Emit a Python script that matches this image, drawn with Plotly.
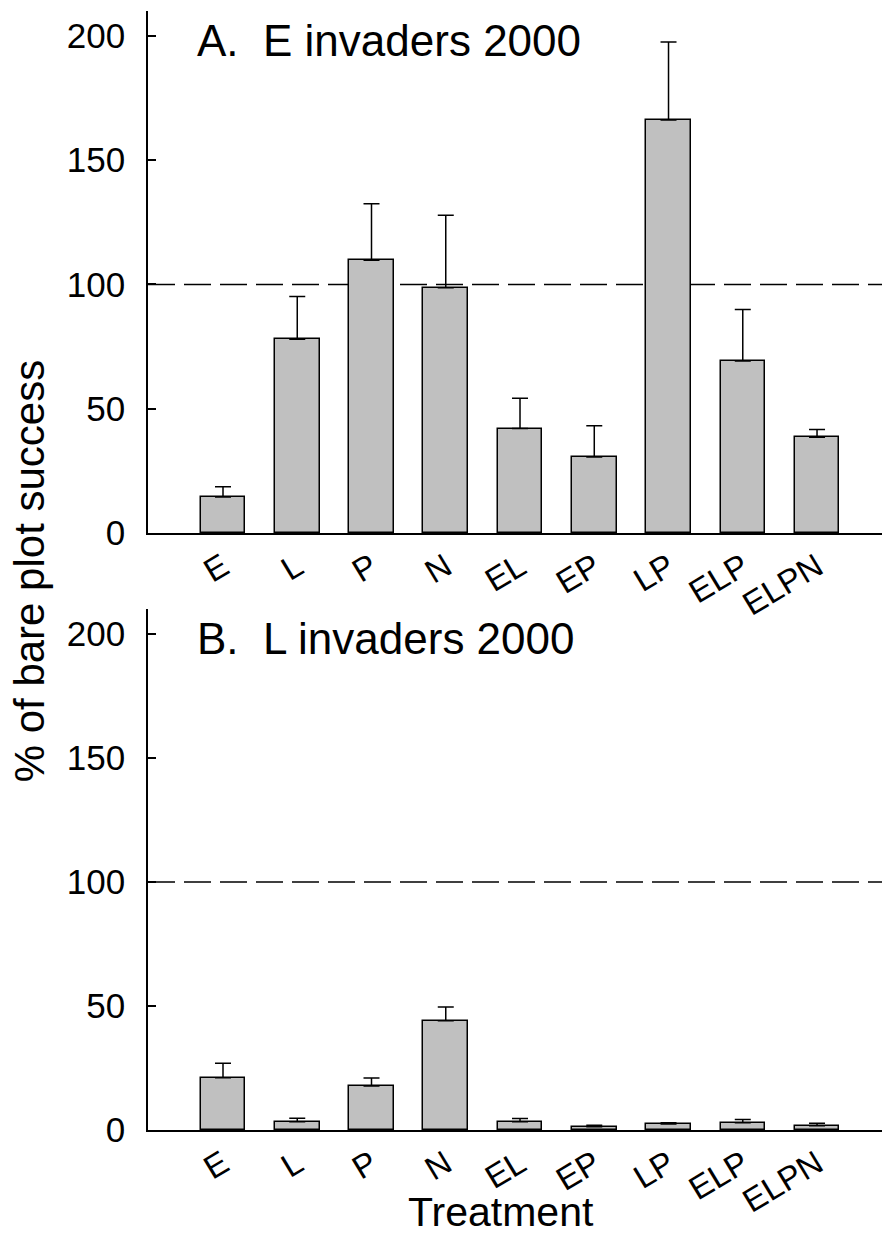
import plotly.graph_objects as go

# Treatments on the x axis
treatments = ["E", "L", "P", "N", "EL", "EP", "LP", "ELP", "ELPN"]

# Panel A: E invaders 2000 (% of bare plot success, mean and upper SE)
e_mean = [14.5, 77.9, 109.7, 98.7, 42.0, 30.6, 166.2, 69.2, 38.5]
e_err = [4.1, 17.2, 22.8, 29.1, 12.2, 12.6, 31.3, 20.7, 3.1]

# Panel B: L invaders 2000
l_mean = [21.1, 3.3, 17.7, 44.0, 3.3, 1.3, 2.4, 2.9, 1.7]
l_err = [5.8, 1.4, 3.3, 5.6, 1.3, 0.6, 0.5, 1.3, 1.0]

y_ticks = [0, 50, 100, 150, 200]
reference_level = 100

FONT = "Liberation Sans, Arial, sans-serif"
x_idx = list(range(len(treatments)))

fig = go.Figure()

for mean, err, xa, ya in [(e_mean, e_err, "x", "y"), (l_mean, l_err, "x2", "y2")]:
    fig.add_trace(go.Bar(
        x=x_idx, y=mean, width=0.6,
        marker=dict(color="#c0c0c0", line=dict(color="black", width=1.5)),
        error_y=dict(type="data", array=err, arrayminus=[0] * len(err),
                     symmetric=False, color="black", thickness=1.5, width=8),
        xaxis=xa, yaxis=ya, showlegend=False,
    ))

xaxis_common = dict(
    range=[-1.01, 8.875], tickmode="array", tickvals=x_idx, ticktext=treatments,
    tickangle=-31, ticks="", showline=True, linecolor="black", linewidth=1.5,
    showgrid=False, zeroline=False,
    tickfont=dict(family=FONT, size=33, color="black"),
)
yaxis_common = dict(
    range=[0, 210], tickmode="array", tickvals=y_ticks, ticks="inside",
    ticklen=8, tickwidth=1.5, tickcolor="black", showline=True,
    linecolor="black", linewidth=1.5, showgrid=False, zeroline=False,
    ticklabelstandoff=14,
    tickfont=dict(family=FONT, size=35, color="black"),
)

fig.update_layout(
    width=882, height=1234,
    margin=dict(l=148, r=0, t=11, b=104),
    plot_bgcolor="white", paper_bgcolor="white",
    bargap=0,
    xaxis=dict(domain=[0, 1], anchor="y", **xaxis_common),
    yaxis=dict(domain=[0.5335, 1.0], anchor="x", **yaxis_common),
    xaxis2=dict(domain=[0, 1], anchor="y2", **xaxis_common),
    yaxis2=dict(domain=[0, 0.4656], anchor="x2", **yaxis_common),
)

# dashed reference line at 100 % in each panel
for xr, yr in [("x domain", "y"), ("x2 domain", "y2")]:
    fig.add_shape(type="line", xref=xr, yref=yr, x0=0, x1=1,
                  y0=reference_level, y1=reference_level,
                  line=dict(color="black", width=1.5, dash="27px,9px"),
                  layer="below")

# panel titles
for text, xr, yr in [("A.  E invaders 2000", "x domain", "y domain"),
                     ("B.  L invaders 2000", "x2 domain", "y2 domain")]:
    fig.add_annotation(text=text, xref=xr, yref=yr, x=0.064, y=0.943,
                       xanchor="left", yanchor="middle", showarrow=False,
                       font=dict(family=FONT, size=44, color="black"))

# shared axis titles
fig.add_annotation(text="% of bare plot success", xref="paper", yref="paper",
                   x=-0.161, y=0.5, textangle=-90, xanchor="center",
                   yanchor="middle", showarrow=False,
                   font=dict(family=FONT, size=42, color="black"))
fig.add_annotation(text="Treatment", xref="paper", yref="paper",
                   x=(501 - 148) / 734, y=-(1212 - 1130) / 1119,
                   xanchor="center", yanchor="middle", showarrow=False,
                   font=dict(family=FONT, size=41, color="black"))

fig.write_html("out.html")
